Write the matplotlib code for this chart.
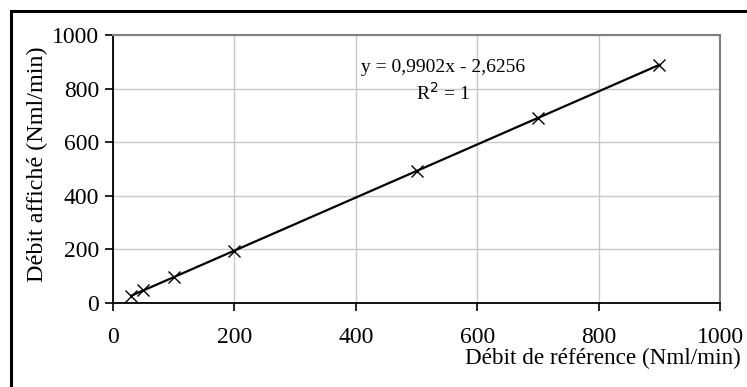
import numpy as np
import matplotlib.pyplot as plt
from matplotlib.patches import Rectangle

plt.rcParams['font.family'] = ['Liberation Serif', 'DejaVu Serif']

# reference flow vs displayed flow
debit_ref = [30, 50, 100, 200, 500, 700, 900]
debit_aff = [27, 47, 96, 195, 492, 691, 889]
pente = 0.9902
ordonnee = -2.6256

fig = plt.figure(figsize=(7.47, 3.87), dpi=100)
ax = fig.add_axes([113 / 747, 1 - 303 / 387, 607 / 747, 268 / 387])

# trendline over the data range
xt = np.array([min(debit_ref), max(debit_ref)])
ax.plot(xt, pente * xt + ordonnee, color='black', lw=1.6, zorder=3)
ax.plot(debit_ref, debit_aff, ls='none', marker='x', ms=8, mew=1.0,
        color='black', zorder=4)

ax.set_xlim(0, 1000)
ax.set_ylim(0, 1000)
ax.set_xticks(range(0, 1001, 200))
ax.set_yticks(range(0, 1001, 200))
ax.grid(True, color='#c8c8c8', lw=1.0)
ax.set_axisbelow(True)
ax.tick_params(direction='out', length=6, width=1.2, labelsize=17,
               color='black', pad=4)
ax.tick_params(axis='x', pad=11)
for s in ['left', 'bottom']:
    ax.spines[s].set_color('black')
    ax.spines[s].set_linewidth(1.3)
for s in ['top', 'right']:
    ax.spines[s].set_color('#808080')
    ax.spines[s].set_linewidth(1.5)

ax.set_ylabel('Débit affiché (Nml/min)', fontsize=17.4, va='center')
ax.yaxis.set_label_coords(-0.124, 0.519)
fig.text(741 / 747, 1 - 358 / 387, 'Débit de référence (Nml/min)',
         fontsize=16.7, ha='right', va='center')

ax.text(544, 877, 'y = 0,9902x - 2,6256', fontsize=14, ha='center', va='center')
ax.text(544, 784, r'R$^2$ = 1', fontsize=14, ha='center', va='center')

# outer chart border (right and bottom edges fall outside the image)
fig.patches.append(Rectangle((11 / 747, -0.05), 1.0, 1 - 11 / 387 + 0.05,
                             transform=fig.transFigure, fill=False,
                             edgecolor='black', lw=2.2))

fig.savefig('out.png', dpi=100)
